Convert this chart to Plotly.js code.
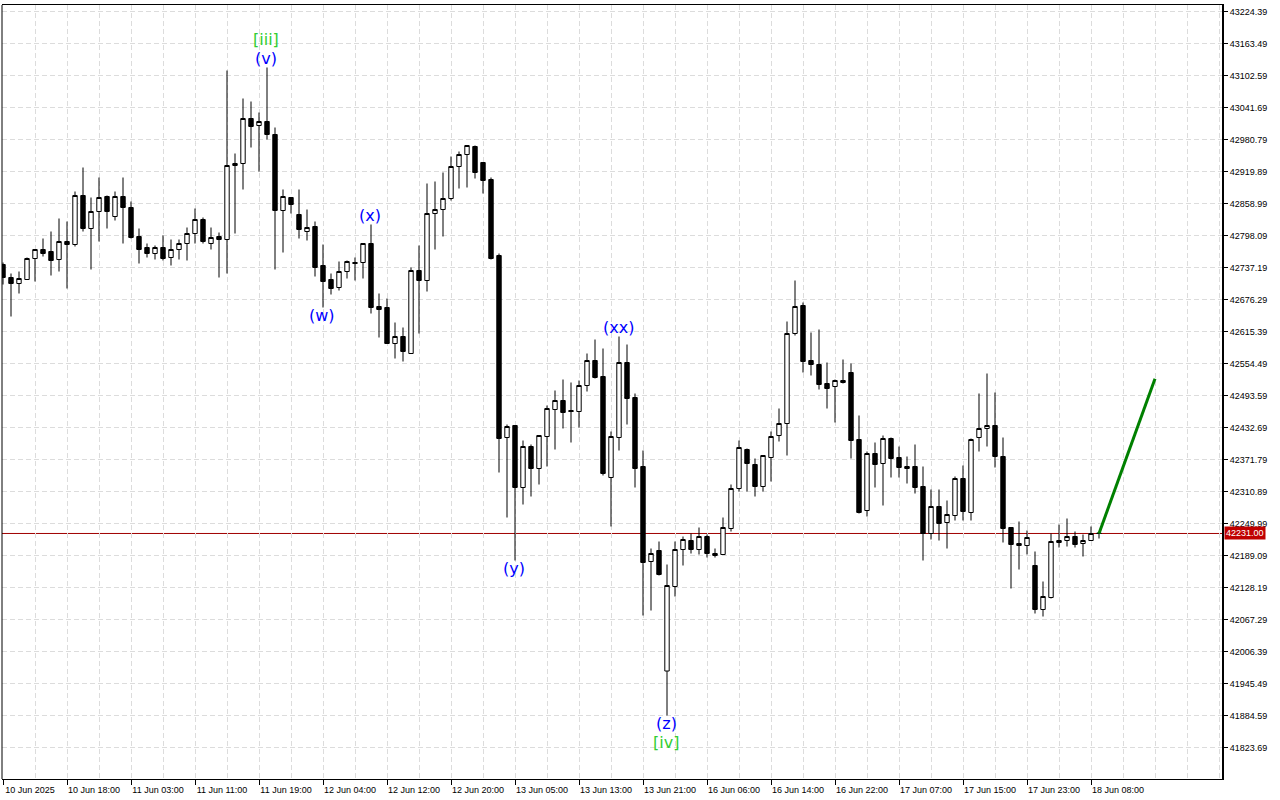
<!DOCTYPE html>
<html><head><meta charset="utf-8">
<script src="https://cdn.plot.ly/plotly-3.0.1.min.js"></script>
<style>html,body{margin:0;padding:0;background:#fff}#chart{width:1280px;height:800px}</style>
</head><body><div id="chart"></div>
<script>
const xTickLabels = ["10 Jun 2025","10 Jun 18:00","11 Jun 03:00","11 Jun 11:00","11 Jun 19:00","12 Jun 04:00","12 Jun 12:00","12 Jun 20:00","13 Jun 05:00","13 Jun 13:00","13 Jun 21:00","16 Jun 06:00","16 Jun 14:00","16 Jun 22:00","17 Jun 07:00","17 Jun 15:00","17 Jun 23:00","18 Jun 08:00"];
const candlesPerLabel = 8;
const yTicks = [41823.69,41884.59,41945.49,42006.39,42067.29,42128.19,42189.09,42249.99,42310.89,42371.79,42432.69,42493.59,42554.49,42615.39,42676.29,42737.19,42798.09,42858.99,42919.89,42980.79,43041.69,43102.59,43163.49,43224.39];

const open = [
42742.89,42718.16,42706.74,42714.35,42754.31,42771.44,42767.64,42752.41,42786.67,42780.96,
42874.21,42811.41,42843.76,42872.31,42834.24,42872.31,42851.37,42796.18,42775.25,42763.83,
42775.25,42756.22,42771.44,42782.86,42801.89,42828.54,42782.86,42796.18,42790.47,42931.30,
42935.11,43020.75,43007.43,43015.04,42990.30,42845.66,42870.40,42838.05,42805.70,42815.21,
42740.99,42714.35,42699.12,42729.57,42746.70,42746.70,42782.86,42662.96,42661.06,42592.55,
42605.87,42573.52,42731.48,42712.44,42839.95,42847.57,42868.50,42929.40,42952.24,42967.46,
42937.01,42904.66,42760.02,42413.65,42436.49,42318.50,42396.52,42354.65,42415.56,42466.94,
42484.07,42465.04,42463.14,42512.62,42560.19,42529.74,42337.53,42413.65,42556.39,42489.78,
42358.46,42177.67,42198.60,41969.22,42130.09,42200.50,42217.63,42200.50,42225.24,42192.89,
42190.99,42240.47,42316.59,42390.82,42362.27,42320.40,42375.59,42417.46,42440.30,42611.58,
42664.87,42560.19,42552.58,42516.42,42510.71,42522.13,42537.36,42409.85,42274.73,42383.20,
42364.17,42411.75,42375.59,42358.46,42358.46,42320.40,42230.95,42282.34,42251.89,42265.21,
42335.63,42270.92,42413.65,42430.78,42436.49,42377.49,42242.37,42211.92,42208.12,42170.05,
42086.32,42109.15,42217.63,42217.63,42225.24,42211.92,42217.63,42231.80];
const high = [
42746.70,42725.77,42729.57,42756.22,42771.44,42792.38,42805.70,42830.44,42824.73,42881.82,
42927.50,42870.40,42908.47,42874.21,42881.82,42908.47,42862.79,42811.41,42782.86,42779.05,
42798.09,42790.47,42790.47,42813.31,42849.47,42832.34,42813.31,42803.79,43112.10,42954.14,
43058.81,43053.10,43032.17,43117.81,43003.62,42885.63,42870.40,42885.63,42847.57,42824.73,
42780.96,42725.77,42748.60,42750.51,42756.22,42782.86,42819.02,42687.70,42678.19,42632.51,
42623.00,42737.19,42779.05,42897.05,42900.85,42917.98,42948.43,42957.95,42969.37,42969.37,
42937.01,42908.47,42763.83,42438.39,42436.49,42407.94,42400.33,42417.46,42474.55,42503.10,
42524.03,42518.32,42522.13,42573.52,42600.16,42583.03,42425.07,42605.87,42590.64,42497.39,
42388.91,42202.41,42215.73,42171.96,42215.73,42225.24,42230.95,42242.37,42229.05,42202.41,
42261.40,42324.21,42407.94,42392.72,42373.69,42379.40,42425.07,42468.83,42634.42,42712.44,
42670.58,42613.48,42619.19,42556.39,42524.03,42562.10,42554.49,42455.52,42387.01,42404.14,
42417.46,42413.65,42396.52,42377.49,42400.33,42358.46,42314.69,42314.69,42293.76,42339.43,
42360.36,42411.75,42497.39,42535.45,42499.29,42413.65,42242.37,42253.79,42236.66,42196.70,
42139.61,42230.95,42248.08,42259.50,42234.76,42229.05,42244.28,42232.85];
const low = [
42704.83,42643.93,42687.70,42714.35,42710.54,42758.12,42721.96,42729.57,42697.22,42777.15,
42805.70,42733.38,42786.67,42811.41,42826.63,42782.86,42792.38,42744.80,42756.22,42752.41,
42750.51,42740.99,42752.41,42750.51,42782.86,42782.86,42771.44,42718.16,42725.77,42801.89,
42885.63,42965.56,42919.89,42980.79,42733.38,42765.73,42839.95,42792.38,42788.57,42720.06,
42661.06,42685.80,42693.41,42716.25,42712.44,42716.25,42649.64,42603.97,42592.55,42564.00,
42558.29,42573.52,42611.58,42691.51,42771.44,42796.18,42864.69,42887.53,42889.44,42906.56,
42878.02,42752.41,42347.04,42261.40,42179.57,42286.14,42301.37,42324.21,42358.46,42390.82,
42430.78,42404.14,42432.69,42501.20,42525.94,42341.33,42244.28,42388.91,42438.39,42318.50,
42074.90,42084.41,42151.02,41884.59,42111.06,42170.05,42192.89,42190.99,42185.28,42185.28,
42190.99,42234.76,42310.89,42310.89,42301.37,42310.89,42329.92,42406.04,42379.40,42607.77,
42537.36,42531.65,42505.00,42468.83,42442.20,42516.42,42373.69,42269.02,42263.31,42318.50,
42284.24,42337.53,42337.53,42326.11,42307.08,42179.57,42219.53,42217.63,42202.41,42255.69,
42255.69,42255.69,42387.01,42396.52,42356.56,42213.82,42126.28,42162.44,42190.99,42078.70,
42073.00,42107.25,42204.31,42206.21,42204.31,42187.18,42217.63,42221.44];
const close = [
42718.16,42706.74,42716.25,42754.31,42771.44,42763.83,42750.51,42786.67,42780.96,42874.21,
42811.41,42843.76,42870.40,42843.76,42872.31,42851.37,42794.28,42771.44,42763.83,42775.25,
42754.31,42771.44,42782.86,42801.89,42828.54,42786.67,42794.28,42790.47,42931.30,42935.11,
43020.75,43005.53,43015.04,42990.30,42845.66,42872.31,42857.08,42809.50,42813.31,42737.19,
42710.54,42697.22,42729.57,42748.60,42745.00,42782.86,42661.06,42657.25,42592.55,42605.87,
42577.32,42731.48,42712.44,42839.95,42847.57,42868.50,42929.40,42952.24,42969.37,42917.98,
42902.76,42754.31,42411.75,42434.59,42318.50,42396.52,42354.65,42417.46,42468.83,42484.07,
42461.23,42463.14,42512.62,42560.19,42527.84,42345.14,42415.56,42556.39,42487.88,42354.65,
42175.76,42192.89,42152.93,42131.99,42200.50,42219.53,42200.50,42225.24,42192.89,42189.08,
42242.37,42316.59,42394.62,42364.17,42320.40,42379.40,42415.56,42440.30,42611.58,42662.96,
42558.29,42552.58,42514.52,42506.91,42522.13,42518.32,42407.94,42270.92,42383.20,42362.27,
42411.75,42373.69,42356.56,42354.65,42318.50,42230.95,42282.34,42249.98,42267.11,42335.63,
42272.82,42409.85,42430.78,42436.49,42377.49,42240.47,42210.02,42208.12,42223.34,42086.32,
42111.06,42215.73,42213.82,42225.24,42210.02,42217.63,42230.95,42231.00];

const lastPrice = 42231.00;
const forecastX = [137, 144];
const forecastY = [42231.00, 42525.50];

const waveText = ["[iii]","(v)","(w)","(x)","(y)","(xx)","(z)","[iv]"];
const waveCandle = [33,33,40,46,64,77,83,83];
const waveSide = ["high","high","low","high","low","high","low","low"];

const idx = open.map((_, i) => i);
const gridStyle = {gridcolor:'#dcdcdc', griddash:'5px,3px', gridwidth:1};

const traces = [{
  type:'candlestick', x:idx, open:open, high:high, low:low, close:close,
  increasing:{line:{color:'#000000', width:1}, fillcolor:'#ffffff'},
  decreasing:{line:{color:'#000000', width:1}, fillcolor:'#000000'},
  whiskerwidth:0, hoverinfo:'skip', showlegend:false
},{
  type:'scatter', mode:'lines', x:forecastX, y:forecastY,
  line:{color:'#008000', width:3}, hoverinfo:'skip', showlegend:false
}];

const annotations = waveText.map((t, i) => {
  const isHigh = waveSide[i] === 'high';
  const outer = t.charAt(0) === '[';
  const c = waveCandle[i];
  return {
    x: c, y: isHigh ? high[c] : low[c], xref:'x', yref:'y',
    text: t, showarrow:false, xanchor:'center', yanchor:'middle',
    xshift:-1,
    yshift: isHigh ? (outer ? 28 : 9) : (outer ? -27 : -8),
    font:{family:'DejaVu Sans, sans-serif', size:16, color: outer ? '#32cd32' : '#0000ff'}
  };
});
annotations.push({
  xref:'paper', x:1, xanchor:'left', xshift:2, yref:'y', y:lastPrice, yanchor:'middle',
  text:lastPrice.toFixed(2), showarrow:false, bgcolor:'#c00000', borderpad:1,
  font:{family:'Liberation Sans, Arial, sans-serif', size:9, color:'#ffffff'}
});

const layout = {
  width:1280, height:800,
  margin:{l:2, r:58, t:5, b:21, pad:0},
  paper_bgcolor:'#ffffff', plot_bgcolor:'#ffffff',
  showlegend:false,
  boxgap:0.45, boxgroupgap:0,
  font:{family:'Liberation Sans, Arial, sans-serif', size:9, color:'#000000'},
  xaxis:Object.assign({
    type:'linear', range:[-0.125, 152.375], rangeslider:{visible:false},
    tickmode:'array', tickvals:xTickLabels.map((_, i) => i * candlesPerLabel), ticktext:xTickLabels,
    ticks:'outside', ticklen:5, tickcolor:'#000000', tickwidth:1, ticklabelshift:27, ticklabelstandoff:-3,
    tickfont:{size:9, color:'#000000'},
    showline:true, linecolor:'#000000', linewidth:1, mirror:true,
    showgrid:true, zeroline:false, fixedrange:true,
    minor:Object.assign({tickmode:'linear', tick0:0, dtick:4, showgrid:true, ticks:''}, gridStyle)
  }, gridStyle),
  yaxis:Object.assign({
    side:'right', range:[41763.74, 43236.75],
    tickmode:'array', tickvals:yTicks, ticktext:yTicks.map(v => v.toFixed(2)),
    ticks:'outside', ticklen:4, tickcolor:'#000000', tickwidth:1,
    tickfont:{size:9, color:'#000000'},
    showline:true, linecolor:'#000000', linewidth:2,
    showgrid:true, zeroline:false, fixedrange:true
  }, gridStyle),
  shapes:[
    {type:'line', xref:'paper', yref:'paper', x0:0, x1:0, y0:0, y1:1, line:{color:'#000000', width:1}},
    {type:'line', xref:'paper', yref:'y', x0:0, x1:1, y0:lastPrice, y1:lastPrice, layer:'below', line:{color:'#a00000', width:1}}
  ],
  annotations:annotations
};

Plotly.newPlot('chart', traces, layout, {displayModeBar:false, staticPlot:true});
</script>
</body></html>
